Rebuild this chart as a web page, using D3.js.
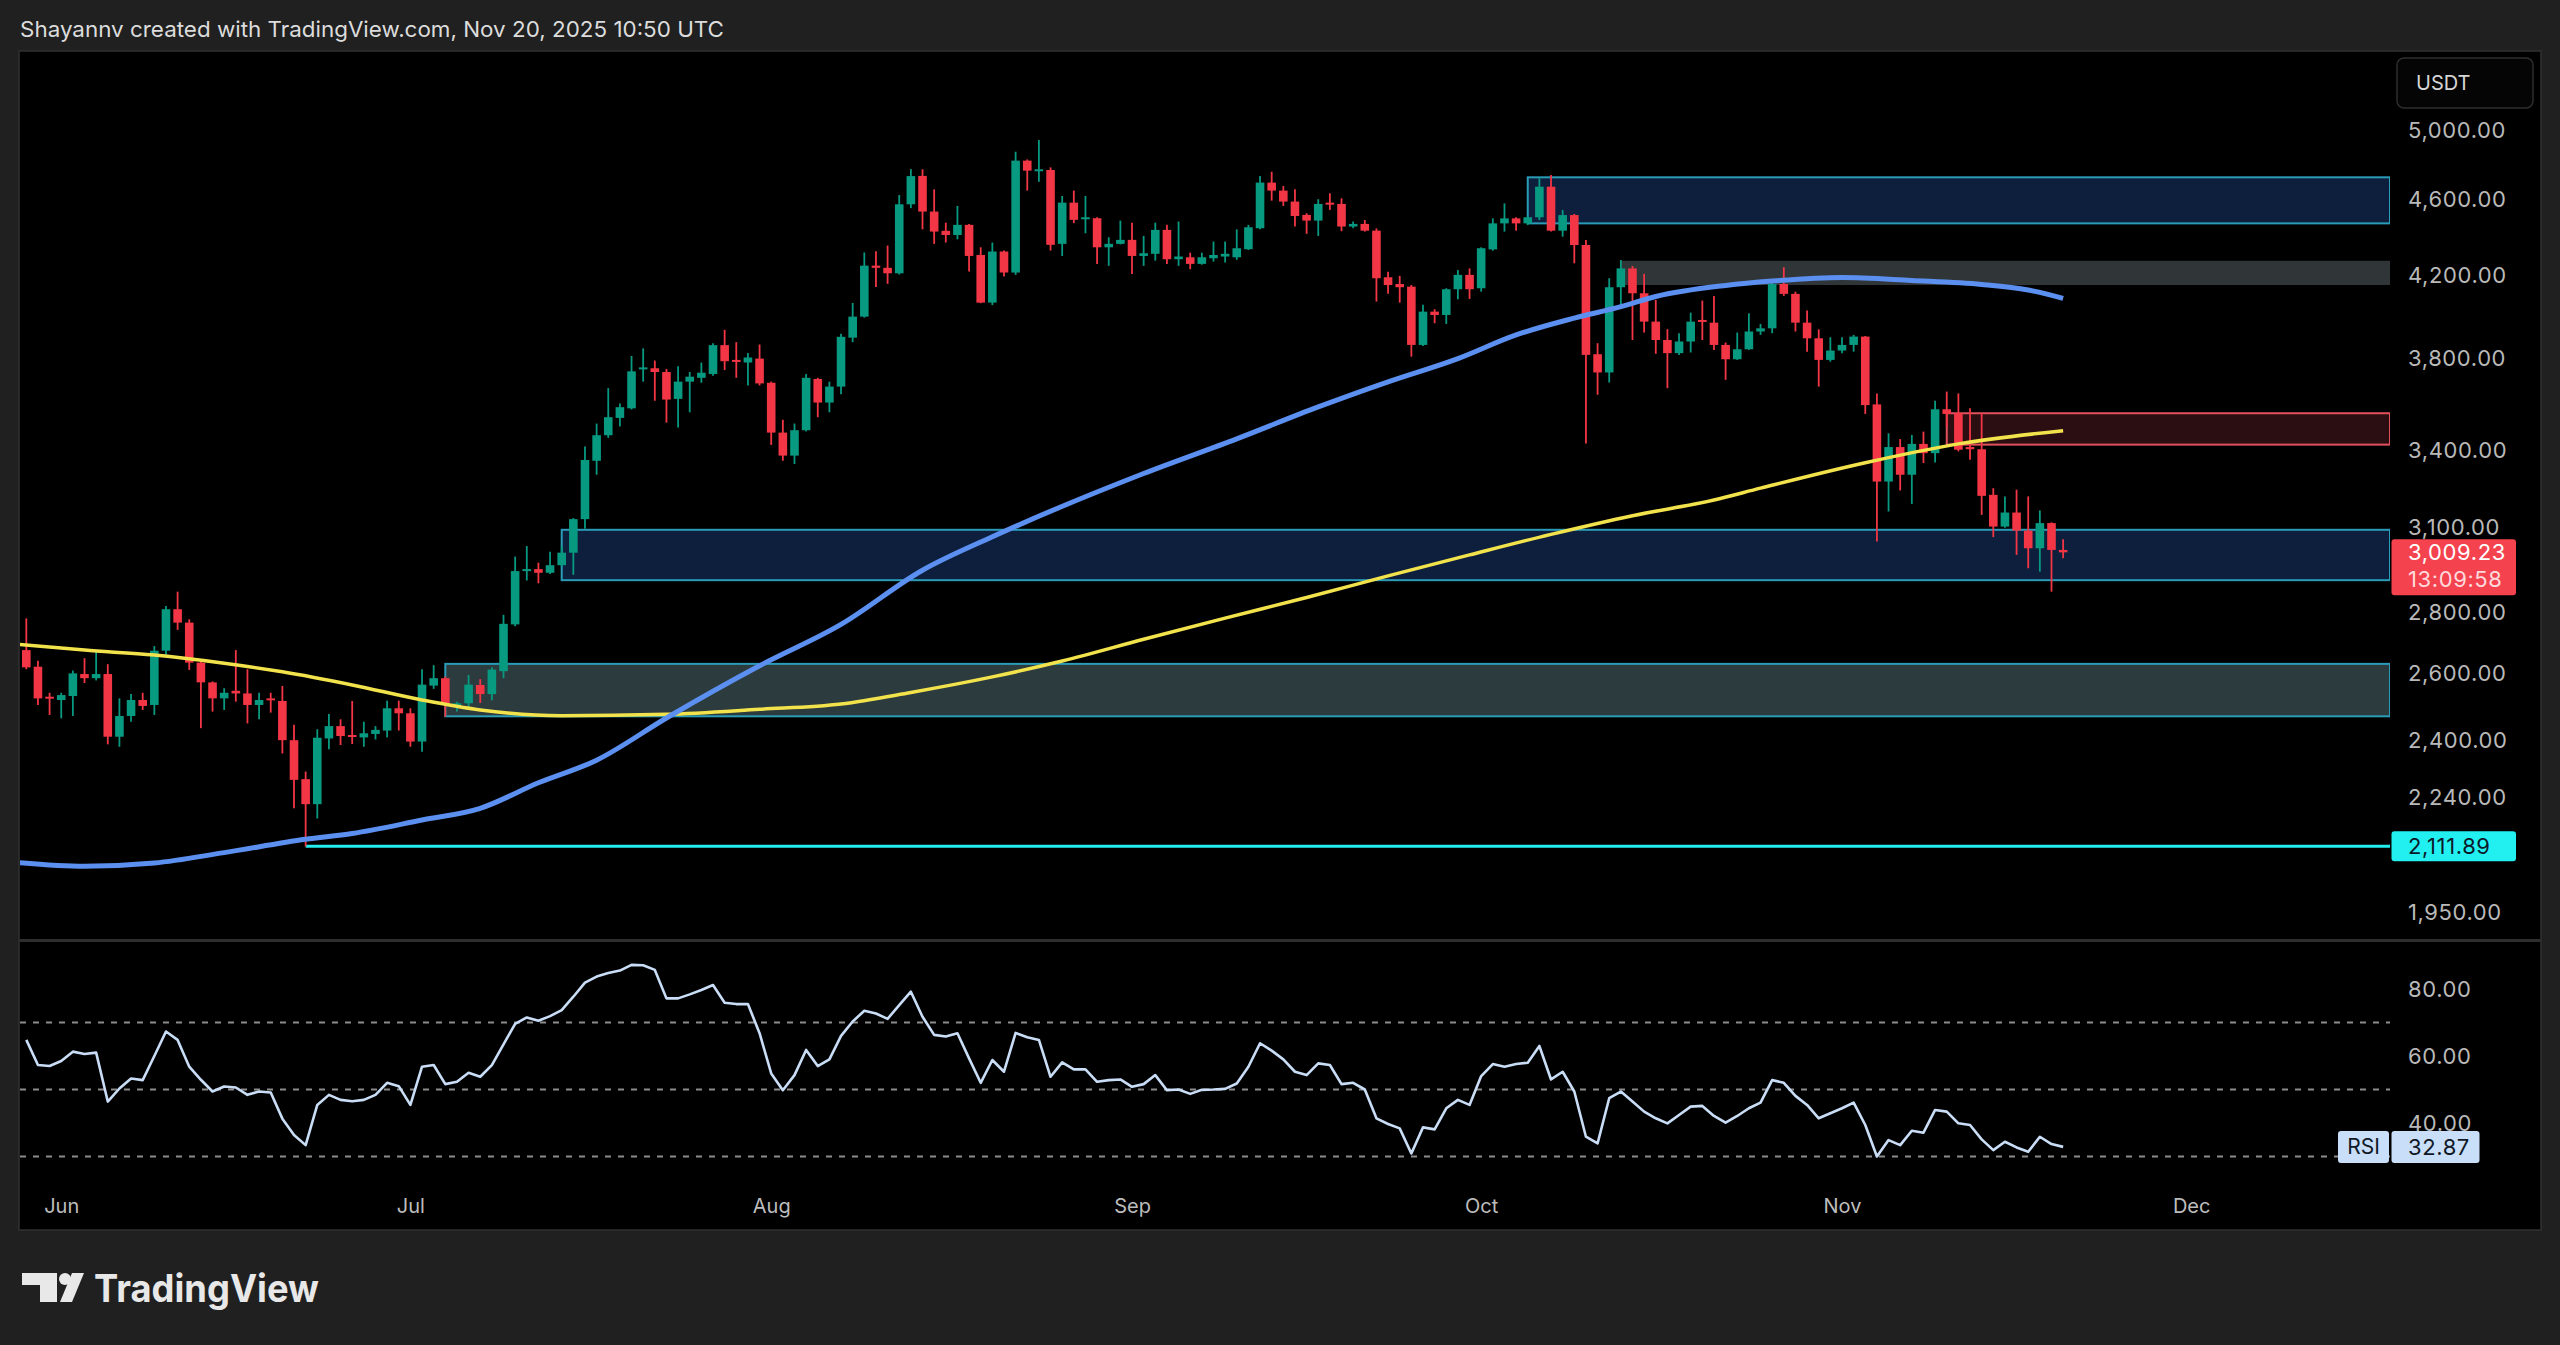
<!DOCTYPE html>
<html>
<head>
<meta charset="utf-8">
<title>ETH / USDT 1D</title>
<script src="https://cdn.jsdelivr.net/npm/d3@7"></script>
<style>
  html, body { margin: 0; padding: 0; background: #202020; }
  #chart { width: 2560px; height: 1345px; }
  text { font-family: Inter, "Noto Sans", "Liberation Sans", sans-serif; }
</style>
</head>
<body>
<div id="chart"></div>
<script>
// daily candles, first one on May 29 2025
const firstDay = "2025-05-29";

const opens = [
  2675, 2622, 2529,
  2519, 2531, 2599, 2586, 2599, 2410, 2471, 2519, 2504, 2673, 2810, 2765, 2635, 2573, 2524, 2547, 2539, 2504, 2524, 2516, 2400, 2290, 2222, 2405, 2441, 2415, 2408, 2418, 2428, 2494,
  2479, 2396, 2563, 2586, 2501, 2509, 2565, 2537, 2608, 2759, 2942, 2949, 2936, 2963, 3008, 3132, 3360, 3465, 3538, 3579, 3756, 3756, 3739, 3620, 3696, 3713, 3730, 3862, 3794, 3782, 3800,
  3691, 3476, 3381, 3486, 3708, 3604, 3674, 3897, 3997, 4250, 4239, 4211, 4576, 4735, 4536, 4432, 4410, 4464, 4305, 4065, 4323, 4215, 4823, 4769, 4769, 4363, 4585, 4500, 4500, 4345, 4363,
  4384, 4300, 4311, 4437, 4283, 4293, 4259, 4288, 4297, 4293, 4335, 4446, 4697, 4652, 4591, 4518, 4487, 4585, 4578, 4455, 4469, 4433, 4191, 4157, 4144, 3863, 4021, 4005, 4131, 4203,
  4136, 4334, 4472, 4499, 4472, 4505, 4674, 4433, 4517, 4357, 3820, 3737, 4141, 4236, 4111, 3973, 3886, 3825, 3879, 3981, 3968, 3863, 3797, 3843, 3926, 3941, 4157, 4108, 3968, 3894, 3794,
  3837, 3863, 3902, 3596, 3277, 3416, 3304, 3429, 3391, 3575, 3558, 3416, 3407, 3225, 3104, 3157, 3089, 3024, 3117, 3018
];
const highs = [
  2779, 2641, 2541,
  2541, 2610, 2649, 2673, 2630, 2524, 2537, 2541, 2688, 2821, 2870, 2776, 2644, 2576, 2555, 2675, 2614, 2541, 2541, 2562, 2445, 2311, 2432, 2477, 2461, 2516, 2454, 2441, 2517, 2517,
  2494, 2614, 2627, 2591, 2514, 2596, 2583, 2620, 2791, 2994, 3032, 2972, 3011, 3032, 3136, 3418, 3514, 3667, 3600, 3812, 3847, 3791, 3753, 3765, 3739, 3782, 3871, 3934, 3876, 3826, 3865,
  3696, 3530, 3514, 3730, 3713, 3696, 3915, 4063, 4318, 4324, 4354, 4627, 4774, 4773, 4659, 4476, 4567, 4469, 4345, 4370, 4328, 4875, 4830, 4944, 4784, 4622, 4652, 4622, 4505, 4398, 4487,
  4476, 4405, 4476, 4464, 4482, 4317, 4317, 4375, 4375, 4440, 4464, 4735, 4759, 4678, 4659, 4527, 4604, 4637, 4609, 4482, 4490, 4445, 4219, 4198, 4152, 4054, 4033, 4136, 4228, 4236,
  4345, 4499, 4581, 4505, 4510, 4721, 4740, 4545, 4523, 4383, 3871, 4186, 4279, 4248, 4208, 4078, 3937, 3918, 4016, 4075, 4098, 3874, 3921, 4013, 3962, 4164, 4242, 4119, 4026, 3936, 3899,
  3899, 3910, 3905, 3644, 3473, 3449, 3466, 3480, 3612, 3652, 3644, 3579, 3558, 3251, 3219, 3245, 3219, 3165, 3120, 3057
];
const lows = [
  2614, 2504, 2474,
  2464, 2471, 2571, 2579, 2388, 2381, 2454, 2489, 2474, 2652, 2741, 2612, 2435, 2484, 2489, 2514, 2449, 2461, 2481, 2362, 2211, 2111.89, 2184, 2374, 2386, 2389, 2381, 2402, 2408, 2428,
  2381, 2367, 2553, 2469, 2484, 2499, 2510, 2518, 2586, 2753, 2909, 2899, 2932, 2959, 2929, 3096, 3304, 3454, 3502, 3574, 3696, 3612, 3518, 3497, 3562, 3691, 3722, 3748, 3713, 3679, 3679,
  3425, 3360, 3347, 3481, 3541, 3562, 3640, 3876, 3992, 4142, 4158, 4205, 4555, 4440, 4363, 4370, 4387, 4220, 4062, 4053, 4195, 4203, 4652, 4702, 4328, 4300, 4473, 4419, 4259, 4249, 4360,
  4208, 4249, 4276, 4259, 4249, 4232, 4255, 4271, 4266, 4280, 4331, 4440, 4596, 4567, 4455, 4416, 4405, 4545, 4430, 4446, 4428, 4070, 4108, 4065, 3809, 3858, 3965, 3962, 4081, 4083,
  4119, 4327, 4428, 4433, 4463, 4490, 4428, 4401, 4262, 3431, 3638, 3692, 4054, 3886, 3921, 3822, 3667, 3817, 3828, 3886, 3840, 3704, 3794, 3840, 3910, 3918, 4098, 3926, 3832, 3674, 3786,
  3824, 3832, 3555, 3049, 3161, 3242, 3190, 3351, 3353, 3501, 3398, 3364, 3148, 3065, 3100, 3000, 2952, 2940, 2870, 2988
];
const closes = [
  2620, 2524, 2524,
  2534, 2601, 2586, 2599, 2410, 2471, 2519, 2501, 2673, 2810, 2765, 2635, 2573, 2524, 2541, 2539, 2504, 2519, 2519, 2400, 2288, 2222, 2407, 2441, 2412, 2412, 2420, 2430, 2494, 2479,
  2396, 2566, 2586, 2504, 2509, 2566, 2537, 2613, 2761, 2942, 2949, 2936, 2963, 3008, 3132, 3363, 3465, 3541, 3584, 3742, 3760, 3739, 3617, 3696, 3718, 3736, 3862, 3788, 3788, 3805, 3688,
  3476, 3381, 3486, 3713, 3604, 3674, 3901, 3997, 4250, 4239, 4211, 4576, 4734, 4536, 4428, 4410, 4464, 4300, 4065, 4323, 4215, 4823, 4765, 4773, 4358, 4585, 4491, 4505, 4345, 4363, 4384,
  4300, 4314, 4437, 4283, 4297, 4259, 4293, 4305, 4311, 4340, 4451, 4697, 4652, 4591, 4512, 4487, 4578, 4578, 4455, 4469, 4433, 4186, 4152, 4141, 3863, 4021, 4005, 4131, 4203, 4131,
  4340, 4472, 4499, 4472, 4505, 4674, 4433, 4517, 4357, 3817, 3737, 4141, 4236, 4111, 3973, 3886, 3825, 3879, 3973, 3973, 3863, 3797, 3843, 3926, 3941, 4157, 4108, 3968, 3894, 3794, 3837,
  3863, 3902, 3593, 3277, 3416, 3304, 3429, 3391, 3575, 3555, 3405, 3407, 3221, 3104, 3157, 3089, 3024, 3117, 3018, 3009.23
];

// RSI (14), one value per candle
const rsiValues = [
  64.8, 57.3, 57.0,
  58.5, 61.3, 60.6, 61.0, 46.4, 50.3, 53.3, 52.8, 60.0, 67.3, 64.8, 56.8, 52.9, 49.4, 50.9, 50.6, 48.4, 49.4, 49.1, 41.3, 36.4, 33.4, 45.4, 48.4, 46.9, 46.5, 46.9, 48.4, 52.0, 51.0,
  45.4, 56.8, 57.3, 51.6, 52.3, 55.0, 53.8, 57.3, 63.5, 69.6, 71.5, 70.5, 71.9, 73.7, 77.7, 81.9, 83.7, 84.8, 85.5, 87.2, 87.1, 85.7, 77.2, 77.2, 78.4, 79.7, 81.2, 75.9, 75.5, 75.5, 66.8,
  54.8, 49.8, 54.3, 61.8, 57.0, 59.0, 66.0, 70.3, 73.5, 72.7, 71.1, 75.2, 79.2, 71.7, 66.3, 65.8, 66.8, 59.3, 52.0, 58.8, 55.3, 66.9, 65.6, 64.8, 53.8, 58.1, 56.0, 56.0, 52.3, 52.8, 53.0,
  50.8, 51.6, 54.3, 49.8, 50.0, 48.7, 49.9, 50.0, 50.2, 51.8, 56.8, 63.8, 61.6, 59.0, 55.3, 54.3, 57.8, 57.3, 51.6, 52.0, 50.0, 41.4, 39.7, 38.4, 30.9, 38.7, 38.1, 44.4, 46.9, 45.4,
  54.0, 57.6, 56.8, 57.6, 58.0, 63.0, 53.0, 55.3, 49.4, 35.9, 33.9, 47.4, 49.4, 46.4, 43.4, 41.4, 39.9, 42.4, 44.9, 45.1, 42.1, 40.1, 42.1, 44.4, 46.1, 52.8, 52.0, 48.1, 45.4, 41.4, 42.9,
  44.4, 46.1, 39.4, 30.0, 34.9, 33.4, 37.7, 37.1, 43.9, 43.4, 39.9, 39.4, 35.1, 31.9, 34.4, 32.7, 31.4, 35.9, 33.7, 32.87
];

// moving averages
const blueMaDates = ["2025-05-28", "2025-06-03", "2025-06-09", "2025-06-15", "2025-06-22", "2025-06-26", "2025-07-02", "2025-07-07", "2025-07-12", "2025-07-17", "2025-07-23", "2025-07-31", "2025-08-07", "2025-08-14", "2025-08-20", "2025-09-02", "2025-09-10", "2025-09-17", "2025-09-23", "2025-09-29", "2025-10-04", "2025-10-09", "2025-10-13", "2025-10-16", "2025-10-22", "2025-10-26", "2025-11-01", "2025-11-07", "2025-11-13", "2025-11-17", "2025-11-20"];
const blueMaValues = [2072, 2062, 2070, 2096, 2130, 2145, 2180, 2211, 2280, 2343, 2465, 2625, 2759, 2945, 3066, 3309, 3450, 3585, 3695, 3800, 3910, 3990, 4045, 4095, 4150, 4172, 4190, 4175, 4155, 4127, 4086];
const yellowMaDates = ["2025-05-28", "2025-06-03", "2025-06-09", "2025-06-15", "2025-06-20", "2025-06-26", "2025-07-02", "2025-07-07", "2025-07-14", "2025-07-23", "2025-07-31", "2025-08-07", "2025-08-13", "2025-08-20", "2025-08-26", "2025-09-02", "2025-09-09", "2025-09-16", "2025-09-23", "2025-09-30", "2025-10-07", "2025-10-14", "2025-10-21", "2025-10-25", "2025-11-03", "2025-11-11", "2025-11-20"];
const yellowMaValues = [2695, 2675, 2659, 2633, 2606, 2565, 2519, 2489, 2472, 2476, 2491, 2507, 2542, 2590, 2640, 2710, 2780, 2850, 2925, 3000, 3075, 3145, 3205, 3251, 3352, 3429, 3484];

// drawn zones (extend to the right edge)
const zoneStarts  = ["2025-10-05", "2025-10-13", "2025-11-10", "2025-07-14", "2025-07-04"];
const zoneTops    = [4727, 4275, 3558, 3092, 2631];
const zoneBottoms = [4472, 4152, 3426, 2910, 2470];
const zoneKinds   = ["blue", "gray", "red", "blue", "slate"];

const supportLevel = 2111.89;
const supportStart = "2025-06-22";

const priceTicks = [5000, 4600, 4200, 3800, 3400, 3100, 2800, 2600, 2400, 2240, 1950];
const rsiTicks = [80, 60, 40];
const rsiBands = [70, 50, 30];
const countdown = "13:09:58";

document.addEventListener("DOMContentLoaded", function () {
    const W = 2560, H = 1345;
    const svg = d3.select("#chart").append("svg")
        .attr("width", W)
        .attr("height", H);

    const plotL = 20, plotR = 2390;
    const axisX = 2408;
    const up = "#089981", down = "#f23645";

    const zoneStyle = {
        blue:  {fill: "#0d1f3d", stroke: "#2a9cb8"},
        gray:  {fill: "#303537", stroke: "none"},
        red:   {fill: "#2b0e12", stroke: "#e2505b"},
        slate: {fill: "#2c3b3e", stroke: "#2a9cb8"}
    };

    const parse = d3.utcParse("%Y-%m-%d");
    const start = parse(firstDay);
    const days = d3.utcDay.range(start, d3.utcDay.offset(start, closes.length));
    const candles = days.map((d, i) => ({date: d, o: opens[i], h: highs[i], l: lows[i], c: closes[i]}));

    const x = d3.scaleUtc()
        .domain([new Date(Date.UTC(2025, 4, 28, 11)), new Date(Date.UTC(2025, 11, 18, 2))])
        .range([plotL, plotR]);
    const y = d3.scaleLog().domain([5000, 1950]).range([130.7, 912.6]);
    const yr = d3.scaleLinear().domain([80, 40]).range([989, 1123]);

    // background + header
    svg.append("rect").attr("width", W).attr("height", H).attr("fill", "#202020");
    svg.append("text")
        .attr("x", 20).attr("y", 37)
        .attr("fill", "#dcdcdc")
        .attr("textLength", 704).attr("lengthAdjust", "spacingAndGlyphs")
        .style("font-size", "22px")
        .text("Shayannv created with TradingView.com, Nov 20, 2025 10:50 UTC");

    svg.append("rect")
        .attr("x", 19).attr("y", 51).attr("width", 2522).attr("height", 1179)
        .attr("fill", "#000").attr("stroke", "#303030").attr("stroke-width", 1.5);

    const defs = svg.append("defs");
    defs.append("clipPath").attr("id", "clipPrice").append("rect")
        .attr("x", plotL).attr("y", 52).attr("width", plotR - plotL).attr("height", 886);
    defs.append("clipPath").attr("id", "clipRsi").append("rect")
        .attr("x", plotL).attr("y", 943).attr("width", plotR - plotL).attr("height", 240);

    const price = svg.append("g").attr("clip-path", "url(#clipPrice)");

    // zones
    price.append("g")
        .selectAll("rect")
        .data(zoneStarts.map((s, i) => ({s: parse(s), top: zoneTops[i], bot: zoneBottoms[i], kind: zoneKinds[i]})))
        .enter().append("rect")
            .attr("x", d => x(d.s))
            .attr("y", d => y(d.top))
            .attr("width", d => plotR - x(d.s))
            .attr("height", d => y(d.bot) - y(d.top))
            .attr("fill", d => zoneStyle[d.kind].fill)
            .attr("stroke", d => zoneStyle[d.kind].stroke)
            .attr("stroke-width", 2);

    // support line
    price.append("line")
        .attr("x1", x(parse(supportStart))).attr("x2", plotR)
        .attr("y1", y(supportLevel)).attr("y2", y(supportLevel))
        .attr("stroke", "#22eeee").attr("stroke-width", 3);

    // candles
    const cg = price.append("g")
        .selectAll("g")
        .data(candles)
        .enter().append("g")
            .attr("fill", d => d.c >= d.o ? up : down)
            .attr("stroke", d => d.c >= d.o ? up : down);
    cg.append("line")
        .attr("x1", d => x(d.date)).attr("x2", d => x(d.date))
        .attr("y1", d => y(d.h)).attr("y2", d => y(d.l))
        .attr("stroke-width", 1.8);
    cg.append("rect")
        .attr("x", d => x(d.date) - 4.3)
        .attr("width", 8.6)
        .attr("y", d => y(Math.max(d.o, d.c)))
        .attr("height", d => Math.max(2, Math.abs(y(d.o) - y(d.c))))
        .attr("stroke", "none");

    // moving averages
    const maLine = d3.line()
        .x(d => x(d[0]))
        .y(d => y(d[1]))
        .curve(d3.curveMonotoneX);
    price.append("path")
        .datum(yellowMaDates.map((d, i) => [parse(d), yellowMaValues[i]]))
        .attr("d", maLine)
        .attr("fill", "none").attr("stroke", "#f2e34c").attr("stroke-width", 3.5);
    price.append("path")
        .datum(blueMaDates.map((d, i) => [parse(d), blueMaValues[i]]))
        .attr("d", maLine)
        .attr("fill", "none").attr("stroke", "#5b8ff0").attr("stroke-width", 5);

    // pane separator
    svg.append("line")
        .attr("x1", 19).attr("x2", 2541).attr("y1", 940.5).attr("y2", 940.5)
        .attr("stroke", "#2e2e2e").attr("stroke-width", 3);

    // price axis
    const fmt = d3.format(",.2f");
    svg.append("g")
        .attr("transform", `translate(${axisX},0)`)
        .call(d3.axisRight(y).tickValues(priceTicks).tickSize(0).tickPadding(0).tickFormat(fmt))
        .call(g => g.select(".domain").remove())
        .selectAll("text")
            .attr("fill", "#b9b9b9")
            .style("font-size", "22px")
            .style("letter-spacing", "0.6px");

    // USDT box
    svg.append("rect")
        .attr("x", 2397).attr("y", 58).attr("width", 136).attr("height", 50).attr("rx", 7)
        .attr("fill", "#050505").attr("stroke", "#2e2e2e").attr("stroke-width", 1.5);
    svg.append("text")
        .attr("x", 2416).attr("y", 90)
        .attr("fill", "#d6d6d6").style("font-size", "20px")
        .text("USDT");

    // last price badge
    const last = closes[closes.length - 1];
    const ly = y(last);
    svg.append("rect")
        .attr("x", 2391.5).attr("y", ly - 13).attr("width", 124.5).attr("height", 56).attr("rx", 3)
        .attr("fill", "#f4434f");
    svg.append("text")
        .attr("x", axisX).attr("y", ly).attr("dy", "0.35em")
        .attr("fill", "#ffffff").style("font-size", "22px").style("letter-spacing", "0.6px")
        .text(fmt(last));
    svg.append("text")
        .attr("x", axisX).attr("y", ly + 27).attr("dy", "0.35em")
        .attr("fill", "#ffd9dc").style("font-size", "22px").style("letter-spacing", "0.6px")
        .text(countdown);

    // support badge
    const sy = y(supportLevel);
    svg.append("rect")
        .attr("x", 2391.5).attr("y", sy - 15).attr("width", 124.5).attr("height", 30).attr("rx", 3)
        .attr("fill", "#22f0f0");
    svg.append("text")
        .attr("x", axisX).attr("y", sy).attr("dy", "0.35em")
        .attr("fill", "#0b1a2a").style("font-size", "22px").style("letter-spacing", "0.6px")
        .text(fmt(supportLevel));

    // RSI pane
    const rsi = svg.append("g").attr("clip-path", "url(#clipRsi)");
    rsi.append("g")
        .selectAll("line")
        .data(rsiBands)
        .enter().append("line")
            .attr("x1", plotL).attr("x2", plotR)
            .attr("y1", d => yr(d)).attr("y2", d => yr(d))
            .attr("stroke", "#8c8c8c").attr("stroke-width", 2)
            .attr("stroke-dasharray", "6,7");
    rsi.append("path")
        .datum(rsiValues.map((v, i) => [days[i], v]))
        .attr("d", d3.line().x(d => x(d[0])).y(d => yr(d[1])))
        .attr("fill", "none").attr("stroke", "#c9ddf6").attr("stroke-width", 2.6)
        .attr("stroke-linejoin", "round");

    svg.append("g")
        .attr("transform", `translate(${axisX},0)`)
        .call(d3.axisRight(yr).tickValues(rsiTicks).tickSize(0).tickPadding(0).tickFormat(d3.format(".2f")))
        .call(g => g.select(".domain").remove())
        .selectAll("text")
            .attr("fill", "#b9b9b9")
            .style("font-size", "22px")
            .style("letter-spacing", "0.6px");

    const lastRsi = rsiValues[rsiValues.length - 1];
    const ry = yr(lastRsi);
    svg.append("rect")
        .attr("x", 2338).attr("y", ry - 16).attr("width", 51).attr("height", 32).attr("rx", 3)
        .attr("fill", "#c9def8");
    svg.append("rect")
        .attr("x", 2391.5).attr("y", ry - 16).attr("width", 88).attr("height", 32).attr("rx", 3)
        .attr("fill", "#c9def8");
    svg.append("text")
        .attr("x", 2363.5).attr("y", ry).attr("dy", "0.35em").attr("text-anchor", "middle")
        .attr("fill", "#101826").style("font-size", "21px")
        .text("RSI");
    svg.append("text")
        .attr("x", axisX).attr("y", ry).attr("dy", "0.35em")
        .attr("fill", "#101826").style("font-size", "22px").style("letter-spacing", "0.6px")
        .text(d3.format(".2f")(lastRsi));

    // time axis
    svg.append("g")
        .attr("transform", "translate(0,1199)")
        .call(d3.axisBottom(x).ticks(d3.utcMonth.every(1)).tickSize(0).tickPadding(0).tickFormat(d3.utcFormat("%b")))
        .call(g => g.select(".domain").remove())
        .selectAll("text")
            .attr("fill", "#bdbdbd")
            .style("font-size", "20px");

    // footer logo
    const logo = svg.append("g").attr("fill", "#e8e8e8");
    logo.append("path").attr("d", "M22,1273 H57 V1302 H40 V1285 H22 Z");
    logo.append("circle").attr("cx", 65).attr("cy", 1279).attr("r", 6);
    logo.append("path").attr("d", "M72,1273 H84 L72,1302 H60 Z");
    logo.append("text")
        .attr("x", 94).attr("y", 1302)
        .attr("textLength", 225).attr("lengthAdjust", "spacingAndGlyphs")
        .style("font-size", "38px").style("font-weight", 700)
        .text("TradingView");
});
</script>
</body>
</html>
